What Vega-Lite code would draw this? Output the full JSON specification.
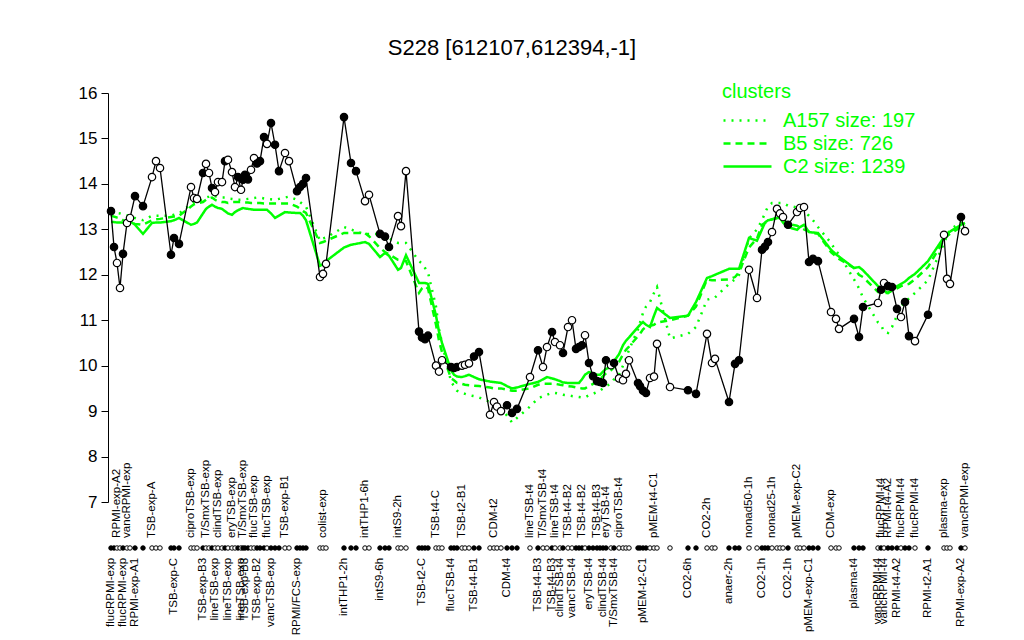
{
"$schema": "https://vega.github.io/schema/vega-lite/v6.json",
"width": 860, "height": 409,
"autosize": {"type": "none"},
"padding": {"left": 108, "top": 93, "right": 56, "bottom": 138},
"title": {"text": "S228 [612107,612394,-1]", "fontSize": 22, "fontWeight": "normal", "font": "Liberation Sans", "color": "black", "offset": 22, "dx": -26, "anchor": "middle", "frame": "group"},
"config": {"view": {"stroke": null}, "font": "Liberation Sans"},
"data": {"values": [
{"x":111,"v":13.40,"f":1,"a":13.4,"b":13.3,"c":13.16,"lab":"flucRPMI-exp","row":"B"},
{"x":114,"v":12.61,"f":1,"a":13.38,"b":13.28,"c":13.16},
{"x":117,"v":12.26,"f":0,"a":13.36,"b":13.26,"c":13.15,"lab":"RPMI-exp-A2","row":"T"},
{"x":120,"v":11.71,"f":0,"a":13.35,"b":13.25,"c":13.15},
{"x":123,"v":12.46,"f":1,"a":13.33,"b":13.2,"c":13.15,"lab":"flucRPMI-exp","row":"B"},
{"x":127,"v":13.14,"f":0,"a":13.31,"b":13.17,"c":13.14,"lab":"vancRPMI-exp","row":"T"},
{"x":130,"v":13.25,"f":0,"a":13.3,"b":13.15,"c":13.18},
{"x":135,"v":13.73,"f":1,"a":13.25,"b":13.12,"c":13.1,"lab":"RPMI-exp-A1","row":"B"},
{"x":143,"v":13.51,"f":1,"a":13.2,"b":13.1,"c":12.9},
{"x":152,"v":14.15,"f":0,"a":13.3,"b":13.2,"c":13.14,"lab":"TSB-exp-A","row":"T"},
{"x":156,"v":14.50,"f":0,"a":13.3,"b":13.22,"c":13.15},
{"x":160,"v":14.35,"f":0,"a":13.3,"b":13.23,"c":13.15},
{"x":171,"v":12.44,"f":1,"a":13.3,"b":13.27,"c":13.18},
{"x":174,"v":12.81,"f":1,"a":13.32,"b":13.28,"c":13.2,"lab":"TSB-exp-C","row":"B"},
{"x":179,"v":12.68,"f":1,"a":13.35,"b":13.3,"c":13.25},
{"x":191,"v":13.93,"f":0,"a":13.55,"b":13.5,"c":13.1,"lab":"ciproTSB-exp","row":"T"},
{"x":194,"v":13.69,"f":0,"a":13.6,"b":13.55,"c":13.12},
{"x":197,"v":13.67,"f":0,"a":13.62,"b":13.57,"c":13.15},
{"x":203,"v":14.24,"f":1,"a":13.65,"b":13.6,"c":13.35,"lab":"TSB-exp-B3","row":"B"},
{"x":206,"v":14.44,"f":0,"a":13.7,"b":13.65,"c":13.45,"lab":"T/SmxTSB-exp","row":"T"},
{"x":209,"v":14.24,"f":0,"a":13.72,"b":13.68,"c":13.5},
{"x":212,"v":13.91,"f":1,"a":13.75,"b":13.7,"c":13.54},
{"x":215,"v":13.82,"f":0,"a":13.73,"b":13.65,"c":13.5,"lab":"lineTSB-exp","row":"B"},
{"x":218,"v":14.04,"f":0,"a":13.72,"b":13.62,"c":13.47,"lab":"clindTSB-exp","row":"T"},
{"x":222,"v":14.04,"f":0,"a":13.7,"b":13.6,"c":13.45},
{"x":225,"v":14.50,"f":1,"a":13.7,"b":13.6,"c":13.4},
{"x":228,"v":14.53,"f":0,"a":13.68,"b":13.58,"c":13.35,"lab":"lineTSB-exp","row":"B"},
{"x":232,"v":14.26,"f":0,"a":13.67,"b":13.6,"c":13.32,"lab":"eryTSB-exp","row":"T"},
{"x":235,"v":13.93,"f":0,"a":13.66,"b":13.6,"c":13.38},
{"x":238,"v":14.15,"f":1,"a":13.65,"b":13.6,"c":13.42},
{"x":241,"v":13.87,"f":0,"a":13.65,"b":13.6,"c":13.45,"lab":"lineTSB-exp","row":"B"},
{"x":243,"v":14.09,"f":1,"a":13.65,"b":13.6,"c":13.47,"lab":"T/SmxTSB-exp","row":"T"},
{"x":245,"v":14.20,"f":1,"a":13.66,"b":13.59,"c":13.46,"lab":"TSB-exp-B3","row":"B"},
{"x":248,"v":14.10,"f":1,"a":13.67,"b":13.59,"c":13.45},
{"x":251,"v":14.31,"f":0,"a":13.68,"b":13.58,"c":13.44},
{"x":254,"v":14.57,"f":0,"a":13.69,"b":13.58,"c":13.43,"lab":"flucTSB-exp","row":"T"},
{"x":257,"v":14.45,"f":1,"a":13.7,"b":13.58,"c":13.43,"lab":"TSB-exp-B2","row":"B"},
{"x":260,"v":14.50,"f":1,"a":13.7,"b":13.58,"c":13.43},
{"x":264,"v":15.03,"f":1,"a":13.68,"b":13.57,"c":13.43},
{"x":267,"v":14.88,"f":0,"a":13.67,"b":13.57,"c":13.43,"lab":"flucTSB-exp","row":"T"},
{"x":271,"v":15.34,"f":1,"a":13.66,"b":13.57,"c":13.35,"lab":"vancTSB-exp","row":"B"},
{"x":275,"v":14.86,"f":1,"a":13.65,"b":13.57,"c":13.25},
{"x":279,"v":14.28,"f":1,"a":13.67,"b":13.57,"c":13.3},
{"x":285,"v":14.68,"f":0,"a":13.7,"b":13.57,"c":13.38,"lab":"TSB-exp-B1","row":"T"},
{"x":289,"v":14.50,"f":0,"a":13.72,"b":13.57,"c":13.37},
{"x":297,"v":13.84,"f":1,"a":13.65,"b":13.5,"c":13.36,"lab":"RPMI/FCS-exp","row":"B"},
{"x":300,"v":13.93,"f":1,"a":13.6,"b":13.45,"c":13.36},
{"x":303,"v":14.00,"f":1,"a":13.55,"b":13.4,"c":13.3},
{"x":306,"v":14.13,"f":1,"a":13.5,"b":13.36,"c":13.2},
{"x":320,"v":11.95,"f":0,"a":12.75,"b":12.7,"c":12.2},
{"x":323,"v":12.02,"f":0,"a":12.8,"b":12.72,"c":12.23,"lab":"colist-exp","row":"T"},
{"x":326,"v":12.24,"f":0,"a":12.82,"b":12.75,"c":12.3},
{"x":344,"v":15.47,"f":1,"a":13.05,"b":12.92,"c":12.6,"lab":"intTHP1-2h","row":"B"},
{"x":351,"v":14.46,"f":1,"a":13.0,"b":12.92,"c":12.66},
{"x":356,"v":14.28,"f":1,"a":12.95,"b":12.92,"c":12.68},
{"x":365,"v":13.62,"f":0,"a":12.9,"b":12.92,"c":12.72,"lab":"intTHP1-6h","row":"T"},
{"x":369,"v":13.76,"f":0,"a":12.9,"b":12.85,"c":12.68},
{"x":380,"v":12.90,"f":1,"a":12.9,"b":12.59,"c":12.39,"lab":"intS9-6h","row":"B"},
{"x":385,"v":12.84,"f":1,"a":12.85,"b":12.5,"c":12.48},
{"x":389,"v":12.61,"f":1,"a":12.8,"b":12.45,"c":12.42},
{"x":398,"v":13.29,"f":0,"a":12.7,"b":12.33,"c":12.11,"lab":"intS9-2h","row":"T"},
{"x":401,"v":13.07,"f":0,"a":12.7,"b":12.32,"c":12.15},
{"x":406,"v":14.28,"f":0,"a":12.7,"b":12.3,"c":12.43},
{"x":419,"v":10.75,"f":1,"a":12.3,"b":11.6,"c":11.82},
{"x":422,"v":10.62,"f":1,"a":12.25,"b":11.7,"c":11.82,"lab":"TSB-t2-C","row":"B"},
{"x":425,"v":10.58,"f":1,"a":12.15,"b":11.75,"c":11.82},
{"x":428,"v":10.66,"f":1,"a":12.05,"b":11.7,"c":11.8},
{"x":436,"v":10.00,"f":0,"a":11.3,"b":10.9,"c":11.1,"lab":"TSB-t4-C","row":"T"},
{"x":439,"v":9.87,"f":0,"a":10.8,"b":10.55,"c":10.75},
{"x":442,"v":10.12,"f":0,"a":10.5,"b":10.3,"c":10.5},
{"x":451,"v":9.97,"f":1,"a":9.65,"b":9.72,"c":9.9,"lab":"flucTSB-t4","row":"B"},
{"x":454,"v":9.95,"f":1,"a":9.55,"b":9.68,"c":9.8},
{"x":457,"v":9.97,"f":1,"a":9.45,"b":9.62,"c":9.76},
{"x":462,"v":10.00,"f":0,"a":9.4,"b":9.6,"c":9.75,"lab":"TSB-t2-B1","row":"T"},
{"x":465,"v":10.02,"f":0,"a":9.38,"b":9.58,"c":9.77},
{"x":469,"v":10.05,"f":0,"a":9.35,"b":9.57,"c":9.8},
{"x":474,"v":10.20,"f":1,"a":9.33,"b":9.56,"c":9.75,"lab":"TSB-t4-B1","row":"B"},
{"x":479,"v":10.30,"f":1,"a":9.3,"b":9.55,"c":9.7},
{"x":490,"v":8.92,"f":0,"a":9.2,"b":9.52,"c":9.65},
{"x":494,"v":9.20,"f":0,"a":9.15,"b":9.5,"c":9.64,"lab":"CDM-t2","row":"T"},
{"x":497,"v":9.10,"f":0,"a":9.12,"b":9.5,"c":9.63},
{"x":501,"v":9.00,"f":0,"a":9.08,"b":9.5,"c":9.62},
{"x":507,"v":9.13,"f":1,"a":8.9,"b":9.47,"c":9.55,"lab":"CDM-t4","row":"B"},
{"x":512,"v":8.96,"f":1,"a":8.75,"b":9.45,"c":9.5},
{"x":517,"v":9.05,"f":1,"a":8.85,"b":9.45,"c":9.52},
{"x":530,"v":9.75,"f":0,"a":9.1,"b":9.5,"c":9.6,"lab":"lineTSB-t4","row":"T"},
{"x":538,"v":10.34,"f":1,"a":9.28,"b":9.58,"c":9.64,"lab":"TSB-t4-B3","row":"B"},
{"x":543,"v":9.97,"f":0,"a":9.33,"b":9.6,"c":9.7,"lab":"T/SmxTSB-t4","row":"T"},
{"x":547,"v":10.41,"f":0,"a":9.36,"b":9.6,"c":9.75},
{"x":552,"v":10.74,"f":1,"a":9.4,"b":9.6,"c":9.72,"lab":"TSB-t4-B3","row":"B"},
{"x":555,"v":10.52,"f":0,"a":9.4,"b":9.6,"c":9.7,"lab":"lineTSB-t4","row":"T"},
{"x":560,"v":10.45,"f":0,"a":9.38,"b":9.58,"c":9.66,"lab":"clindTSB-t4","row":"B"},
{"x":563,"v":10.28,"f":1,"a":9.36,"b":9.57,"c":9.63},
{"x":568,"v":10.85,"f":0,"a":9.35,"b":9.55,"c":9.62,"lab":"TSB-t4-B2","row":"T"},
{"x":572,"v":11.00,"f":0,"a":9.33,"b":9.54,"c":9.62,"lab":"vancTSB-t4","row":"B"},
{"x":576,"v":10.37,"f":1,"a":9.32,"b":9.52,"c":9.62},
{"x":579,"v":10.41,"f":1,"a":9.31,"b":9.51,"c":9.62},
{"x":582,"v":10.45,"f":1,"a":9.3,"b":9.5,"c":9.7,"lab":"TSB-t4-B2","row":"T"},
{"x":585,"v":10.67,"f":0,"a":9.3,"b":9.5,"c":9.8},
{"x":589,"v":10.06,"f":1,"a":9.35,"b":9.55,"c":9.86,"lab":"eryTSB-t4","row":"B"},
{"x":593,"v":9.77,"f":1,"a":9.38,"b":9.6,"c":9.83},
{"x":597,"v":9.66,"f":1,"a":9.42,"b":9.65,"c":9.8,"lab":"TSB-t4-B3","row":"T"},
{"x":600,"v":9.64,"f":1,"a":9.45,"b":9.7,"c":9.8},
{"x":603,"v":9.62,"f":1,"a":9.5,"b":9.77,"c":9.87,"lab":"clindTSB-t4","row":"B"},
{"x":606,"v":10.12,"f":1,"a":9.55,"b":9.83,"c":9.93,"lab":"eryTSB-t4","row":"T"},
{"x":611,"v":10.01,"f":0,"a":9.6,"b":9.9,"c":9.97},
{"x":614,"v":10.06,"f":1,"a":9.7,"b":9.97,"c":10.1,"lab":"T/SmxTSB-t4","row":"B"},
{"x":619,"v":9.72,"f":0,"a":9.8,"b":10.08,"c":10.25,"lab":"ciproTSB-t4","row":"T"},
{"x":623,"v":9.68,"f":0,"a":10.0,"b":10.25,"c":10.45},
{"x":626,"v":9.82,"f":0,"a":10.15,"b":10.35,"c":10.55},
{"x":629,"v":10.12,"f":0,"a":10.35,"b":10.42,"c":10.62},
{"x":638,"v":9.62,"f":1,"a":10.8,"b":10.65,"c":10.85},
{"x":640,"v":9.55,"f":1,"a":10.95,"b":10.7,"c":10.9},
{"x":643,"v":9.45,"f":1,"a":11.16,"b":10.8,"c":10.96,"lab":"pMEM-t2-C1","row":"B"},
{"x":646,"v":9.40,"f":1,"a":11.3,"b":10.85,"c":10.9},
{"x":650,"v":9.73,"f":0,"a":11.4,"b":10.88,"c":10.85},
{"x":654,"v":9.76,"f":0,"a":11.6,"b":10.9,"c":11.1,"lab":"pMEM-t4-C1","row":"T"},
{"x":657,"v":10.48,"f":0,"a":11.73,"b":10.95,"c":11.27},
{"x":670,"v":9.53,"f":0,"a":10.6,"b":11.0,"c":11.05},
{"x":688,"v":9.46,"f":1,"a":10.7,"b":11.1,"c":11.1,"lab":"CO2-6h","row":"B"},
{"x":696,"v":9.38,"f":1,"a":10.85,"b":11.3,"c":11.4},
{"x":707,"v":10.70,"f":0,"a":11.45,"b":11.9,"c":11.93,"lab":"CO2-2h","row":"T"},
{"x":712,"v":10.06,"f":0,"a":11.48,"b":11.88,"c":11.97},
{"x":715,"v":10.15,"f":0,"a":11.5,"b":11.88,"c":12.0},
{"x":729,"v":9.20,"f":1,"a":11.8,"b":11.9,"c":12.13,"lab":"anaer-2h","row":"B"},
{"x":735,"v":10.04,"f":1,"a":11.9,"b":11.95,"c":12.13},
{"x":739,"v":10.12,"f":1,"a":12.0,"b":12.05,"c":12.13},
{"x":749,"v":12.11,"f":0,"a":12.8,"b":12.6,"c":12.81,"lab":"nonad50-1h","row":"T"},
{"x":757,"v":11.49,"f":0,"a":13.0,"b":12.8,"c":12.75},
{"x":762,"v":12.55,"f":1,"a":13.2,"b":13.1,"c":13.0,"lab":"CO2-1h","row":"B"},
{"x":765,"v":12.62,"f":1,"a":13.36,"b":13.14,"c":13.15},
{"x":768,"v":12.72,"f":1,"a":13.5,"b":13.18,"c":13.2},
{"x":772,"v":12.94,"f":0,"a":13.58,"b":13.22,"c":13.22,"lab":"nonad25-1h","row":"T"},
{"x":777,"v":13.45,"f":0,"a":13.58,"b":13.25,"c":13.25},
{"x":780,"v":13.35,"f":0,"a":13.58,"b":13.25,"c":13.25},
{"x":783,"v":13.27,"f":0,"a":13.58,"b":13.22,"c":13.15},
{"x":788,"v":13.10,"f":1,"a":13.52,"b":13.12,"c":13.05,"lab":"CO2-1h","row":"B"},
{"x":797,"v":13.38,"f":0,"a":13.48,"b":13.08,"c":12.99,"lab":"pMEM-exp-C2","row":"T"},
{"x":800,"v":13.47,"f":0,"a":13.45,"b":13.05,"c":13.05},
{"x":804,"v":13.49,"f":0,"a":13.38,"b":13.0,"c":13.1},
{"x":809,"v":12.28,"f":1,"a":13.3,"b":12.95,"c":12.94,"lab":"pMEM-exp-C1","row":"B"},
{"x":813,"v":12.35,"f":1,"a":13.2,"b":12.92,"c":12.93},
{"x":818,"v":12.30,"f":1,"a":13.05,"b":12.9,"c":12.92},
{"x":831,"v":11.18,"f":0,"a":12.7,"b":12.5,"c":12.55,"lab":"CDM-exp","row":"T"},
{"x":836,"v":11.03,"f":0,"a":12.52,"b":12.4,"c":12.45},
{"x":839,"v":10.81,"f":0,"a":12.45,"b":12.35,"c":12.4},
{"x":854,"v":11.03,"f":1,"a":11.9,"b":12.15,"c":12.15,"lab":"plasma-t4","row":"B"},
{"x":859,"v":10.63,"f":1,"a":11.7,"b":12.0,"c":12.17},
{"x":863,"v":11.29,"f":1,"a":11.5,"b":11.95,"c":12.1},
{"x":878,"v":11.38,"f":0,"a":10.95,"b":11.62,"c":11.75,"lab":"vancRPMI-t4","row":"B"},
{"x":881,"v":11.67,"f":1,"a":10.9,"b":11.62,"c":11.7,"lab":"flucRPMI-t4","row":"T"},
{"x":884,"v":11.82,"f":0,"a":10.75,"b":11.6,"c":11.65,"lab":"vancRPMI-t4","row":"B"},
{"x":888,"v":11.75,"f":1,"a":10.72,"b":11.6,"c":11.6,"lab":"RPMI-t4-A2","row":"T"},
{"x":892,"v":11.73,"f":1,"a":10.85,"b":11.65,"c":11.68},
{"x":897,"v":11.25,"f":1,"a":11.1,"b":11.7,"c":11.75,"lab":"RPMI-t4-A2","row":"B"},
{"x":901,"v":11.07,"f":0,"a":11.3,"b":11.75,"c":11.8,"lab":"flucRPMI-t4","row":"T"},
{"x":905,"v":11.40,"f":1,"a":11.4,"b":11.78,"c":11.85},
{"x":909,"v":10.65,"f":1,"a":11.48,"b":11.8,"c":11.93},
{"x":915,"v":10.54,"f":0,"a":11.6,"b":11.9,"c":12.02,"lab":"flucRPMI-t4","row":"T"},
{"x":928,"v":11.12,"f":1,"a":11.88,"b":12.17,"c":12.3,"lab":"RPMI-t2-A1","row":"B"},
{"x":944,"v":12.88,"f":0,"a":12.7,"b":12.77,"c":12.83,"lab":"plasma-exp","row":"T"},
{"x":947,"v":11.91,"f":0,"a":12.85,"b":12.85,"c":12.9},
{"x":950,"v":11.80,"f":0,"a":13.0,"b":12.9,"c":12.95},
{"x":961,"v":13.27,"f":1,"a":13.14,"b":13.05,"c":13.1,"lab":"RPMI-exp-A2","row":"B"},
{"x":965,"v":12.96,"f":0,"a":13.14,"b":13.1,"c":13.14,"lab":"vancRPMI-exp","row":"T"}
]},
"layer": [
{"transform": [{"fold": ["a","b","c"], "as": ["cluster","cv"]}],
 "mark": {"type": "line", "color": "#00FF00", "strokeWidth": 2.5},
 "encoding": {
  "x": {"field": "x", "type": "quantitative", "scale": {"domain": [108, 968], "nice": false, "zero": false}, "axis": null},
  "y": {"field": "cv", "type": "quantitative", "scale": {"domain": [7, 16], "nice": false, "zero": false},
        "axis": {"values": [7,8,9,10,11,12,13,14,15,16], "title": null, "grid": false, "domainColor": "black", "tickColor": "black", "tickSize": 7, "labelFontSize": 17, "labelColor": "black", "labelPadding": 4, "labelFont": "Liberation Sans", "domainWidth": 1, "tickWidth": 1}},
  "strokeDash": {"field": "cluster", "type": "nominal",
     "scale": {"domain": ["a","b","c"], "range": [[2,6],[7,5],[1,0]]},
     "legend": {"orient": "none", "legendX": 614, "legendY": -11, "title": "clusters", "titleColor": "#00FF00", "titleFontSize": 20, "titleFontWeight": "normal", "titleFont": "Liberation Sans", "titlePadding": 7,
       "labelColor": "#00FF00", "labelFontSize": 20, "labelFont": "Liberation Sans", "labelOffset": 38, "symbolType": "M-1,0H3.8", "symbolSize": 400, "symbolFillColor": "transparent", "symbolStrokeColor": "#00FF00", "symbolStrokeWidth": 2.5, "rowPadding": 1,
       "labelExpr": "datum.label == 'a' ? 'A157 size: 197' : datum.label == 'b' ? 'B5 size: 726' : 'C2 size: 1239'"}}
 }},
{"mark": {"type": "line", "color": "black", "strokeWidth": 1.3},
 "encoding": {"x": {"field": "x", "type": "quantitative"}, "y": {"field": "v", "type": "quantitative"}}},
{"mark": {"type": "point", "shape": "circle", "filled": true, "size": 55, "stroke": "black", "strokeWidth": 1.2, "opacity": 1},
 "encoding": {"x": {"field": "x", "type": "quantitative"}, "y": {"field": "v", "type": "quantitative"},
   "fill": {"field": "f", "type": "nominal", "scale": {"domain": [0, 1], "range": ["white", "black"]}, "legend": null}}},
{"mark": {"type": "point", "shape": "circle", "filled": true, "size": 20, "stroke": "black", "strokeWidth": 1, "opacity": 1},
 "encoding": {"x": {"field": "x", "type": "quantitative"}, "y": {"datum": 5.988, "type": "quantitative"},
   "fill": {"field": "f", "type": "nominal", "scale": {"domain": [0, 1], "range": ["white", "black"]}, "legend": null}}},
{"transform": [{"filter": "datum.row == 'T'"}],
 "mark": {"type": "text", "angle": 270, "align": "left", "baseline": "middle", "fontSize": 11.5, "font": "Liberation Sans", "color": "black"},
 "encoding": {"x": {"field": "x", "type": "quantitative"}, "y": {"datum": 6.21, "type": "quantitative"}, "text": {"field": "lab"}}},
{"transform": [{"filter": "datum.row == 'B'"}],
 "mark": {"type": "text", "angle": 270, "align": "right", "baseline": "middle", "fontSize": 11.5, "font": "Liberation Sans", "color": "black"},
 "encoding": {"x": {"field": "x", "type": "quantitative"}, "y": {"datum": 5.77, "type": "quantitative"}, "text": {"field": "lab"}}}
]
}
